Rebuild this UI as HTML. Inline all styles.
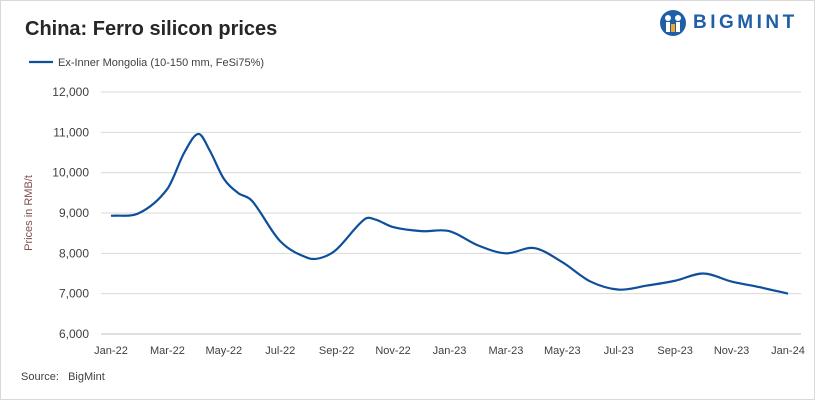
<!DOCTYPE html>
<html><head><meta charset="utf-8">
<style>
body{margin:0;background:#fff;font-family:"Liberation Sans",Arial,sans-serif;}
#wrap{position:relative;width:813px;height:398px;border:1px solid #d9d9d9;overflow:hidden;}
.title{position:absolute;left:24px;top:17px;font-size:20px;font-weight:bold;color:#262626;}
.logo{position:absolute;left:658px;top:8px;display:flex;align-items:center;}
.logo span{font-size:19px;font-weight:bold;color:#1f5fa8;letter-spacing:3.5px;margin-left:6px;}
.src{position:absolute;left:20px;top:370px;font-size:11px;color:#404040;}
</style></head><body>
<div id="wrap">
<div class="title">China: Ferro silicon prices</div>
<div class="logo">
<svg width="28" height="28" viewBox="0 0 28 28"><circle cx="14" cy="14" r="13" fill="#1f5fa8"/><circle cx="9" cy="9" r="3" fill="#fff"/><circle cx="19" cy="9" r="3" fill="#fff"/><rect x="7" y="13" width="4" height="10" fill="#fff"/><rect x="17" y="13" width="4" height="10" fill="#fff"/><rect x="12" y="15" width="4" height="8" fill="#f5a623"/></svg>
<span>BIGMINT</span></div>
<svg id="chart" width="813" height="398" style="position:absolute;left:0;top:0"></svg>
<div class="src">Source:&nbsp;&nbsp;&nbsp;BigMint</div>
</div>
<script>
const months=[0,1,2,2.6,3.1,3.5,4,4.5,5,6,7,7.5,8,9,9.4,10,11,12,13,14,15,16,17,18,19,20,21,22,23,24];
const prices=[8930,9000,9600,10500,10960,10550,9850,9500,9300,8300,7880,7900,8100,8850,8830,8650,8550,8550,8200,8000,8130,7780,7300,7100,7200,7320,7500,7300,7160,7000];
const xLabels=["Jan-22","Mar-22","May-22","Jul-22","Sep-22","Nov-22","Jan-23","Mar-23","May-23","Jul-23","Sep-23","Nov-23","Jan-24"];
const yTicks=[6000,7000,8000,9000,10000,11000,12000];
const NS="http://www.w3.org/2000/svg",svg=document.getElementById('chart');
const x0=100,x1=800,y0=333,y1=91;
const xs=m=>110+m*(787-110)/24, ys=v=>y0-(v-6000)*(y0-y1)/6000;
function mk(t,a,p){const e=document.createElementNS(NS,t);for(const k in a)e.setAttribute(k,a[k]);(p||svg).appendChild(e);return e;}
yTicks.forEach(v=>{
 const l=mk('line',{x1:x0,x2:x1,y1:ys(v),y2:ys(v),stroke:v==6000?'#bfbfbf':'#d9d9d9','stroke-width':1});
 
 
 const t=mk('text',{x:88,y:ys(v)+4,'text-anchor':'end','font-size':12,fill:'#404040'});
 t.textContent=v.toLocaleString('en-US');
 
 
});
xLabels.forEach((s,i)=>{
 const t=mk('text',{x:xs(i*2),y:353,'text-anchor':'middle','font-size':11,fill:'#404040'});
 t.textContent=s;
 
 
});
const at=mk('text',{x:0,y:0,transform:'translate(31,212) rotate(-90)','text-anchor':'middle','font-size':11,fill:'#7f4f4f'});
at.textContent='Prices in RMB/t';


const P=months.map((m,i)=>[xs(m),ys(prices[i])]);
let d='M'+P[0][0]+','+P[0][1];
for(let i=0;i<P.length-1;i++){const p0=P[i-1]||P[i],p1=P[i],p2=P[i+1],p3=P[i+2]||p2;
 const h=p2[0]-p1[0];
 const t1=(p2[1]-p0[1])/(p2[0]-p0[0]||1), t2=(p3[1]-p1[1])/(p3[0]-p1[0]||1);
 d+=` C${p1[0]+h/3},${p1[1]+t1*h/3} ${p2[0]-h/3},${p2[1]-t2*h/3} ${p2[0]},${p2[1]}`;}
const ln=mk('path',{d:d,fill:'none',stroke:'#0e4f9c','stroke-width':2.2});


const lg=mk('line',{x1:28,x2:52,y1:61,y2:61,stroke:'#0e4f9c','stroke-width':2.2});


const lt=mk('text',{x:57,y:65,'font-size':11,fill:'#404040'});
lt.textContent='Ex-Inner Mongolia (10-150 mm, FeSi75%)';


</script>
</body></html>
